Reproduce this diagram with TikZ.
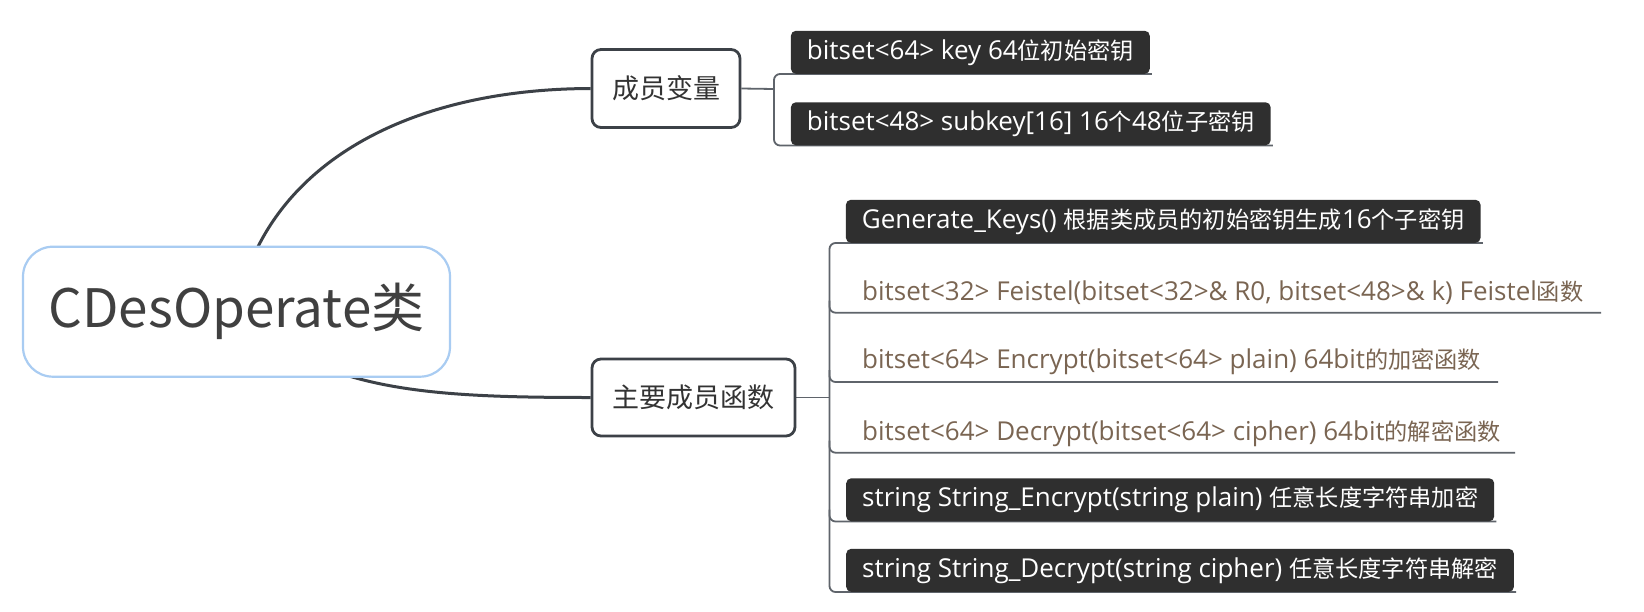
\documentclass[tikz,border=0pt]{standalone}
\usepackage{fontspec}
\newfontfamily\cjk{Noto Sans CJK SC}
\newfontfamily\lat{Open Sans}
\usetikzlibrary{backgrounds}
\definecolor{lineC}{HTML}{3C4147}
\definecolor{rootB}{HTML}{A9CCF2}
\definecolor{darkF}{HTML}{2F2F2F}
\definecolor{brownT}{HTML}{7A6552}
\definecolor{brk}{HTML}{5F646B}
\newcommand\zh[1]{{\cjk\fontsize{23.2}{26}\selectfont #1}}
\tikzset{
 rootbox/.style={draw=rootB, line width=2.2pt, fill=white, rounded corners=30pt, minimum width=427pt, minimum height=130pt, inner sep=0pt, font=\cjk\fontsize{53}{60}\selectfont, text=black!75},
 subbox/.style={draw=lineC, line width=2.8pt, fill=white, rounded corners=9pt, inner sep=0pt, font=\cjk\fontsize{27}{30}\selectfont, text=black!80},
 darkbox/.style={fill=darkF, rounded corners=5pt, text=white, minimum height=43pt, inner xsep=16pt, inner ysep=0pt, font=\lat\fontsize{26}{28}\selectfont, anchor=south west},
 plaintext/.style={text=brownT, inner sep=0pt, font=\lat\fontsize{26}{28}\selectfont, anchor=base west},
 mainline/.style={draw=lineC, line width=3pt},
 bracket/.style={draw=brk, line width=1.8pt, rounded corners=6pt},
}
\begin{document}
\begin{tikzpicture}[x=1pt, y=-1pt]
\useasboundingbox (0,0) rectangle (1644,611);
% nodes
\node[rootbox] (root) at (236.5,311.7) {CDesOperate类};
\node[subbox, minimum width=148pt, minimum height=78pt] (mv) at (666,88.5) {成员变量};
\node[subbox, minimum width=203pt, minimum height=77pt] (fn) at (693.5,397.5) {主要成员函数};
\node[darkbox] (k1) at (790.7,74) {bitset<64> key 64\zh{位初始密钥}};
\node[darkbox] (k2) at (790.7,145.5) {bitset<48> subkey[16] 16\zh{个}48\zh{位子密钥}};
\node[darkbox] (gen) at (845.7,243) {Generate\_Keys() \zh{根据类成员的初始密钥生成}16\zh{个子密钥}};
\node[plaintext] (fe) at (862,300) {bitset<32> Feistel(bitset<32>\& R0, bitset<48>\& k) Feistel\zh{函数}};
\node[plaintext] (en) at (862,368.5) {bitset<64> Encrypt(bitset<64> plain) 64bit\zh{的加密函数}};
\node[plaintext] (de) at (862,440) {bitset<64> Decrypt(bitset<64> cipher) 64bit\zh{的解密函数}};
\node[darkbox] (se) at (846,521.5) {string String\_Encrypt(string plain) \zh{任意长度字符串加密}};
\node[darkbox] (sd) at (846,592) {string String\_Decrypt(string cipher) \zh{任意长度字符串解密}};
\coordinate (b1) at (774,89);
\coordinate (b2) at (829.5,397.5);
\coordinate (feU) at (1601,312.7);
\coordinate (enU) at (1498,382);
\coordinate (deU) at (1515,452.7);
\begin{pgfonlayer}{background}
\fill[white] (0,0) rectangle (1644,611);
\draw[mainline] (root.center) .. controls (262,170) and (400,89) .. (mv.west);
\draw[mainline] (root.center) .. controls (320,390) and (420,397.5) .. (fn.west);
\draw[bracket] (mv.east) -- (b1);
\draw[bracket] ([xshift=2pt]k1.south east) -- (k1.south west -| b1) -- (k2.south west -| b1) -- ([xshift=2pt]k2.south east);
\draw[bracket] (fn.east) -- (b2);
\draw[bracket] ([xshift=2pt]gen.south east) -- (gen.south west -| b2) -- (sd.south west -| b2) -- ([xshift=2pt]sd.south east);
\draw[bracket] (feU -| b2) ++(0,-12) |- (feU);
\draw[bracket] (enU -| b2) ++(0,-12) |- (enU);
\draw[bracket] (deU -| b2) ++(0,-12) |- (deU);
\draw[bracket] (se.south west -| b2) ++(0,-12) |- ([xshift=2pt]se.south east);
\end{pgfonlayer}
\end{tikzpicture}
\end{document}
